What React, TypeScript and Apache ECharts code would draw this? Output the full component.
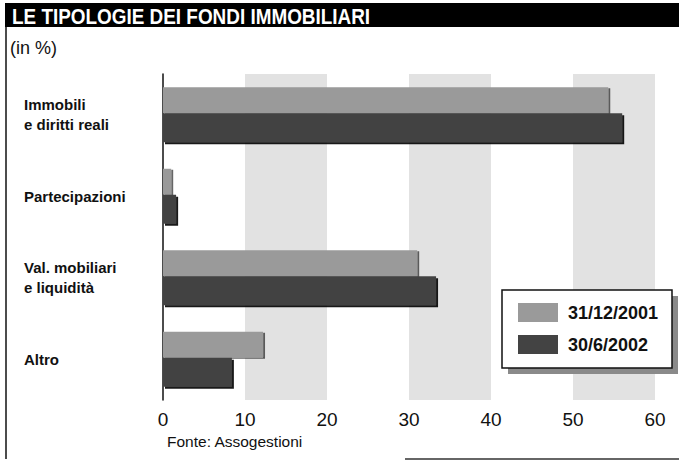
import React, { useEffect, useRef } from "react";
import * as echarts from "echarts";

const categories = ["Immobili\ne diritti reali", "Partecipazioni", "Val. mobiliari\ne liquidità", "Altro"];
const seriesNames = ["31/12/2001", "30/6/2002"];
const values2001 = [54.3, 1.0, 31.0, 12.2];
const values2002 = [56.0, 1.6, 33.3, 8.4];
const xTicks = [0, 10, 20, 30, 40, 50, 60];

const FONT = "'Liberation Sans', Arial, Helvetica, sans-serif";

export default function App() {
  const ref = useRef<HTMLDivElement>(null);
  useEffect(() => {
    if (!ref.current) return;
    const chart = echarts.init(ref.current, null, { renderer: "svg" });
    chart.setOption({
      animation: false,
      backgroundColor: "#ffffff",
      textStyle: { fontFamily: FONT },
      grid: { left: 163, right: 24, top: 74, height: 326 },
      xAxis: {
        type: "value",
        min: xTicks[0],
        max: xTicks[xTicks.length - 1],
        interval: 10,
        axisLine: { show: false },
        axisTick: { show: false },
        splitLine: { show: false },
        splitArea: { show: true, areaStyle: { color: ["rgba(0,0,0,0)", "#e2e2e2"] } },
        axisLabel: { fontSize: 19, color: "#111", margin: 10, fontFamily: FONT },
      },
      yAxis: {
        type: "category",
        data: categories,
        inverse: true,
        axisLine: { show: true, lineStyle: { color: "#111", width: 1.5 } },
        axisTick: { show: false },
        axisLabel: {
          align: "left",
          margin: 139,
          fontSize: 15,
          fontWeight: "bold",
          color: "#111",
          lineHeight: 20,
          fontFamily: FONT,
        },
      },
      legend: {
        orient: "vertical",
        left: 518,
        top: 303,
        padding: 0,
        itemWidth: 40,
        itemHeight: 19,
        itemGap: 13,
        icon: "rect",
        z: 30,
        textStyle: { fontSize: 18, fontWeight: "bold", color: "#111", padding: [0, 0, 0, 5], fontFamily: FONT },
        data: seriesNames,
      },
      series: [
        {
          name: seriesNames[0],
          type: "bar",
          data: values2001,
          barWidth: 26,
          barGap: "0%",
          itemStyle: { color: "#9a9a9a", shadowColor: "rgba(0,0,0,0.6)", shadowBlur: 1, shadowOffsetX: 2, shadowOffsetY: 1 },
        },
        {
          name: seriesNames[1],
          type: "bar",
          data: values2002,
          barWidth: 29,
          itemStyle: { color: "#434343", shadowColor: "rgba(0,0,0,0.9)", shadowBlur: 1, shadowOffsetX: 2, shadowOffsetY: 2 },
        },
      ],
      graphic: [
        { type: "rect", shape: { x: 5, y: 3, width: 674, height: 24 }, style: { fill: "#000" }, z: 10 },
        {
          type: "text",
          x: 12,
          y: 16,
          scaleX: 0.86,
          style: {
            text: "LE TIPOLOGIE DEI FONDI IMMOBILIARI",
            fill: "#fff",
            font: "bold 22px 'Liberation Sans', Arial, sans-serif",
            textVerticalAlign: "middle",
          },
          z: 11,
        },
        { type: "line", shape: { x1: 6, y1: 27, x2: 6, y2: 459 }, style: { stroke: "#111", lineWidth: 1.5 }, z: 10 },
        { type: "line", shape: { x1: 405, y1: 459, x2: 679, y2: 459 }, style: { stroke: "#333", lineWidth: 1.5 }, z: 10 },
        {
          type: "text",
          x: 10,
          y: 48,
          style: { text: "(in %)", fill: "#111", font: "18px 'Liberation Sans', Arial, sans-serif", textVerticalAlign: "middle" },
          z: 11,
        },
        {
          type: "text",
          x: 167,
          y: 441,
          style: { text: "Fonte: Assogestioni", fill: "#111", font: "15.5px 'Liberation Sans', Arial, sans-serif", textVerticalAlign: "middle" },
          z: 11,
        },
        { type: "rect", shape: { x: 508, y: 296, width: 170, height: 78 }, style: { fill: "#8a8a8a" }, z: 20 },
        { type: "rect", shape: { x: 502, y: 290, width: 170, height: 78 }, style: { fill: "#fff", stroke: "#111", lineWidth: 1.5 }, z: 21 },
      ],
    });
    return () => chart.dispose();
  }, []);
  return (
    <div
      ref={ref}
      style={{ position: "fixed", left: 0, top: 0, width: 679, height: 462, background: "#fff" }}
    />
  );
}
